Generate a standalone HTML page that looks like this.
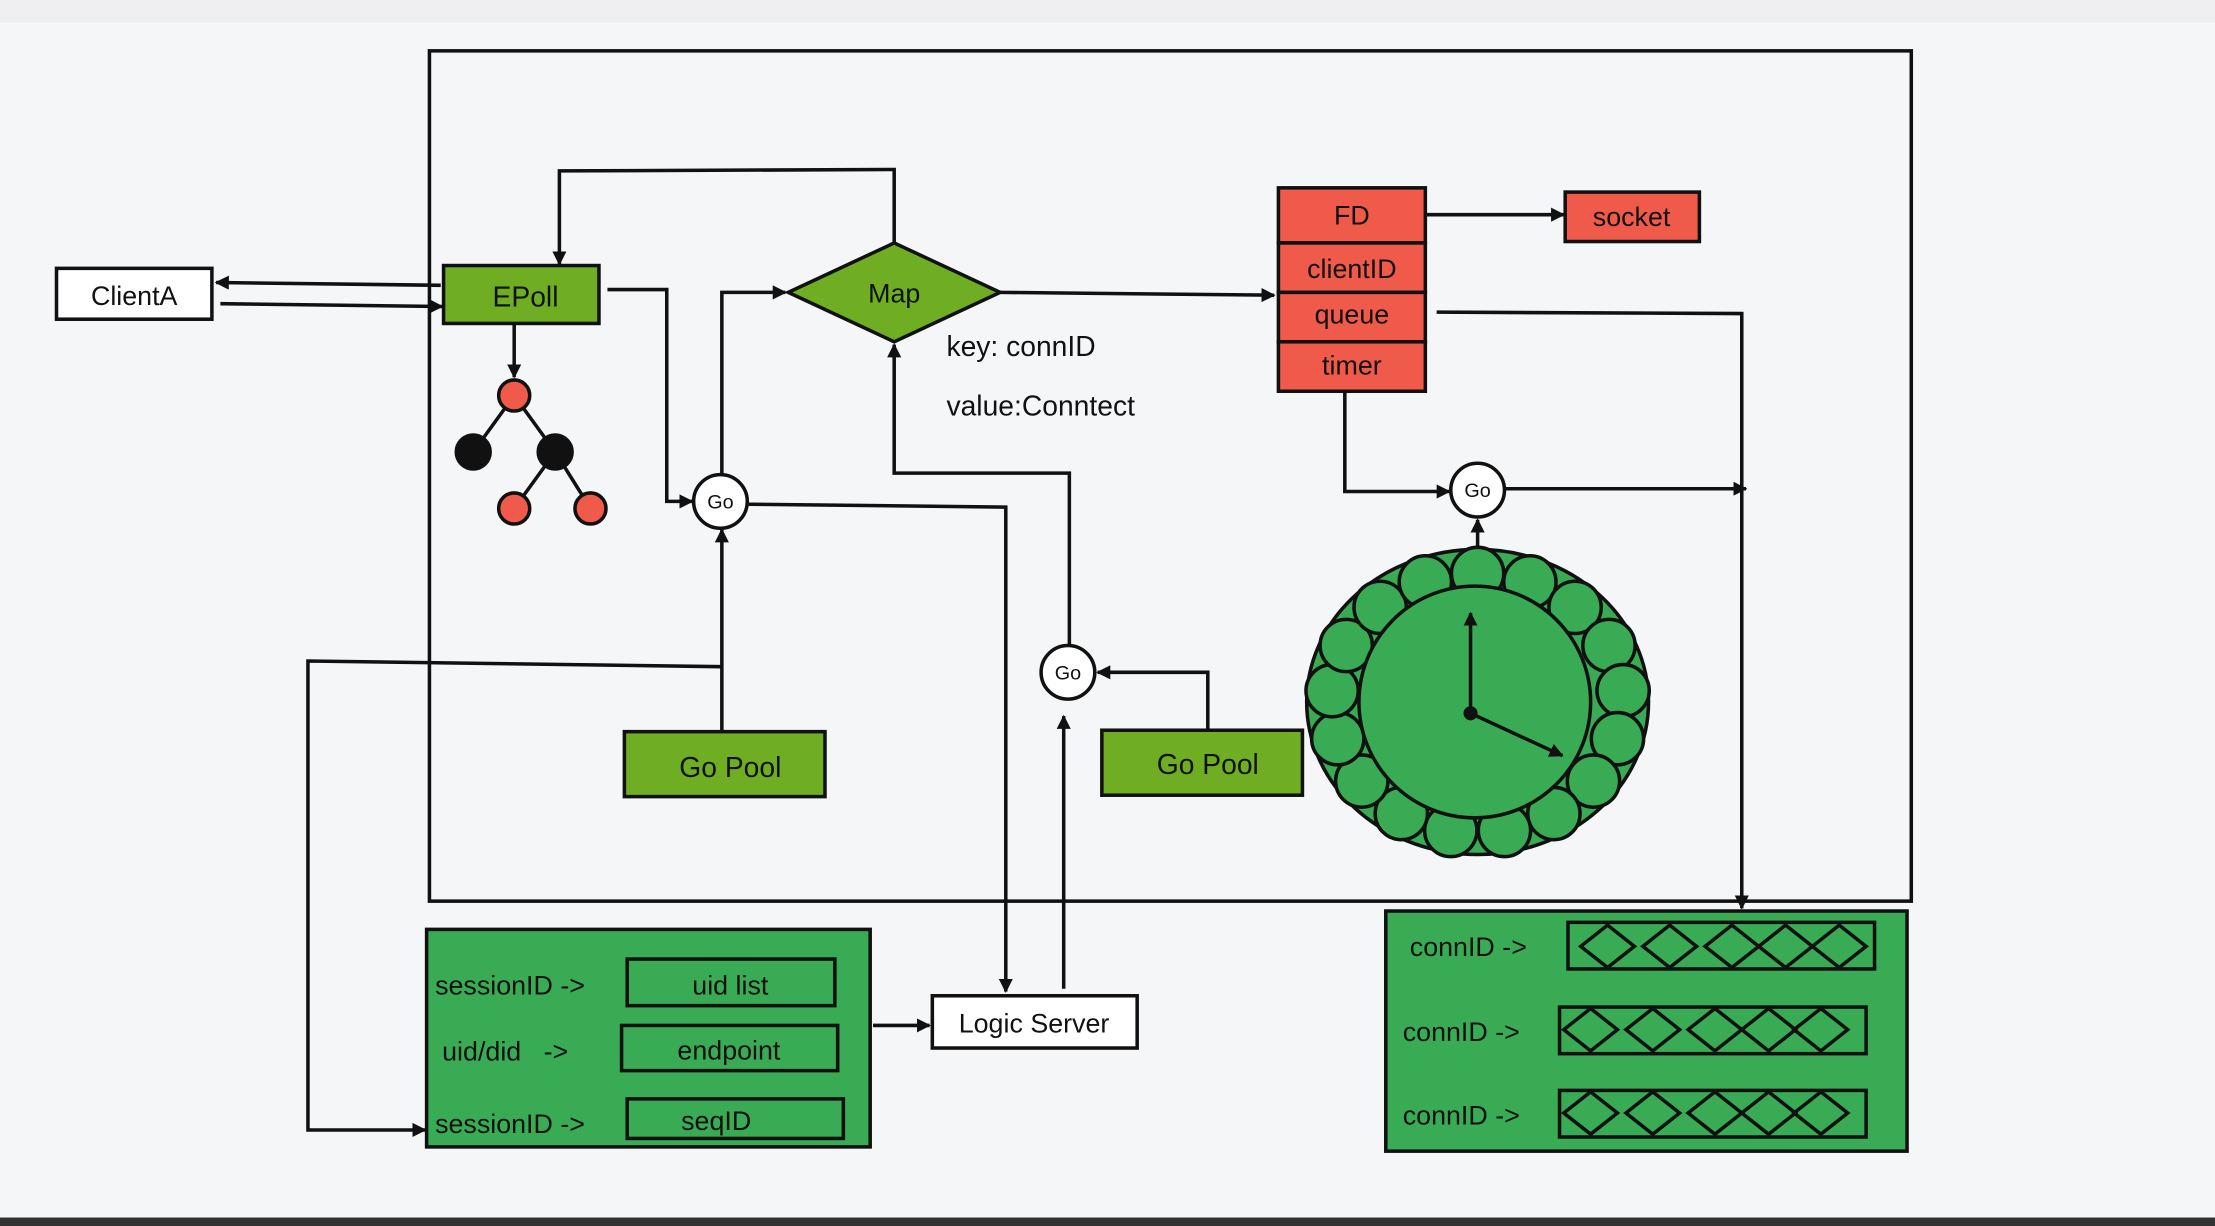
<!DOCTYPE html>
<html><head><meta charset="utf-8"><style>
html,body{margin:0;padding:0;background:#f5f6f8;}
svg{display:block;}
text{font-family:"Liberation Sans",sans-serif;fill:#111;}
</style></head><body>
<svg width="2215" height="1226" viewBox="0 0 1568 868" preserveAspectRatio="none" xmlns="http://www.w3.org/2000/svg">
<defs>
<marker id="a" markerWidth="10" markerHeight="10" refX="9" refY="5" orient="auto" markerUnits="userSpaceOnUse"><path d="M0,0 L10,5 L0,10 z" fill="#111"/></marker>
</defs>
<rect x="0" y="0" width="1568" height="868" fill="#f5f6f8"/>
<rect x="0" y="0" width="1568" height="16" fill="#efeff1"/>
<rect x="0" y="862" width="1568" height="6" fill="#333"/>
<g fill="none" stroke="#111" stroke-width="2.5">
<rect x="304" y="36" width="1049" height="602"/>
</g>
<rect x="40" y="190" width="110" height="36" fill="#fff" stroke="#111" stroke-width="2.5"/>
<text x="95" y="216" font-size="19" text-anchor="middle">ClientA</text>
<rect x="314" y="188" width="110" height="41" fill="#6fae22" stroke="#111" stroke-width="2.5"/>
<text x="372" y="217" font-size="20" text-anchor="middle">EPoll</text>
<g stroke="#111" stroke-width="2.5" fill="none">
<line x1="312" y1="202" x2="153" y2="200" marker-end="url(#a)"/>
<line x1="156" y1="215" x2="313" y2="217" marker-end="url(#a)"/>
<polyline points="633,172 633,120 396,121 396,187" marker-end="url(#a)"/>
<polyline points="430,205 472,205 472,355 490,355" marker-end="url(#a)"/>
<polyline points="511,337 511,207 556,207" marker-end="url(#a)"/>
<polyline points="530,357 712,359 712,702" marker-end="url(#a)"/>
<polyline points="753,700 753,507" marker-end="url(#a)"/>
<polyline points="757,458 757,335 633,335 633,244" marker-end="url(#a)"/>
<polyline points="855,516 855,476 777,476" marker-end="url(#a)"/>
<polyline points="511,518 511,375" marker-end="url(#a)"/>
<polyline points="511,472 218,468 218,800 301,800" marker-end="url(#a)"/>
<line x1="364" y1="229" x2="364" y2="267" marker-end="url(#a)"/>
<line x1="708" y1="207" x2="902" y2="209" marker-end="url(#a)"/>
<line x1="1010" y1="152" x2="1107" y2="152" marker-end="url(#a)"/>
<polyline points="1017,221 1233,222 1233,643" marker-end="url(#a)"/>
<polyline points="952,278 952,348 1026,348" marker-end="url(#a)"/>
<line x1="1066" y1="346" x2="1236" y2="346" marker-end="url(#a)"/>
<line x1="1046" y1="390" x2="1046" y2="368" marker-end="url(#a)"/>
<line x1="618" y1="726" x2="658" y2="726" marker-end="url(#a)"/>
<line x1="364" y1="280" x2="335" y2="320"/>
<line x1="364" y1="280" x2="393" y2="320"/>
<line x1="393" y1="320" x2="364" y2="360"/>
<line x1="393" y1="320" x2="418" y2="360"/>
</g>
<g stroke="#111" stroke-width="2.5">
<circle cx="364" cy="280" r="11" fill="#f05a4b"/>
<circle cx="335" cy="320" r="12" fill="#111"/>
<circle cx="393" cy="320" r="12" fill="#111"/>
<circle cx="364" cy="360" r="11" fill="#f05a4b"/>
<circle cx="418" cy="360" r="11" fill="#f05a4b"/>
</g>
<polygon points="558,207 633,172 708,207 633,242" fill="#6fae22" stroke="#111" stroke-width="2.5"/>
<text x="633" y="214" font-size="19" text-anchor="middle">Map</text>
<text x="670" y="252" font-size="20">key: connID</text>
<text x="670" y="294" font-size="20">value:Conntect</text>
<g stroke="#111" stroke-width="2.5" fill="#fff">
<circle cx="510" cy="355" r="19"/>
<circle cx="756" cy="476" r="19"/>
<circle cx="1046" cy="347" r="19"/>
</g>
<g font-size="14" text-anchor="middle">
<text x="510" y="360">Go</text>
<text x="756" y="481">Go</text>
<text x="1046" y="352">Go</text>
</g>
<rect x="442" y="518" width="142" height="46" fill="#6fae22" stroke="#111" stroke-width="2.5"/>
<text x="517" y="550" font-size="20" text-anchor="middle">Go Pool</text>
<rect x="780" y="517" width="142" height="46" fill="#6fae22" stroke="#111" stroke-width="2.5"/>
<text x="855" y="548" font-size="20" text-anchor="middle">Go Pool</text>
<g stroke="#111" stroke-width="2.5" fill="#f05a4b">
<rect x="905" y="133" width="104" height="39"/>
<rect x="905" y="172" width="104" height="35"/>
<rect x="905" y="207" width="104" height="35"/>
<rect x="905" y="242" width="104" height="35"/>
<rect x="1108" y="136" width="95" height="35"/>
</g>
<g font-size="19" text-anchor="middle">
<text x="957" y="159">FD</text>
<text x="957" y="197">clientID</text>
<text x="957" y="229">queue</text>
<text x="957" y="265">timer</text>
<text x="1155" y="160">socket</text>
</g>
<g stroke="#111" stroke-width="2.5" fill="#3aab55">
<ellipse cx="1046" cy="497" rx="121" ry="108"/>
<circle cx="1046" cy="406" r="18.5"/><circle cx="1083" cy="412" r="18.5"/><circle cx="1115" cy="430" r="18.5"/>
<circle cx="1139" cy="457" r="18.5"/><circle cx="1149" cy="489" r="18.5"/><circle cx="1145" cy="523" r="18.5"/>
<circle cx="1128" cy="553" r="18.5"/><circle cx="1100" cy="576" r="18.5"/><circle cx="1065" cy="588" r="18.5"/>
<circle cx="1027" cy="588" r="18.5"/><circle cx="992" cy="576" r="18.5"/><circle cx="964" cy="553" r="18.5"/>
<circle cx="947" cy="523" r="18.5"/><circle cx="943" cy="489" r="18.5"/><circle cx="953" cy="457" r="18.5"/>
<circle cx="977" cy="430" r="18.5"/><circle cx="1009" cy="412" r="18.5"/>
<ellipse cx="1044" cy="497" rx="82" ry="82"/>
</g>
<g stroke="#111" stroke-width="2.5" fill="none">
<line x1="1041" y1="505" x2="1041" y2="434" marker-end="url(#a)"/>
<line x1="1041" y1="505" x2="1106" y2="535" marker-end="url(#a)"/>
</g>
<circle cx="1041" cy="505" r="5" fill="#111"/>
<rect x="302" y="658" width="314" height="154" fill="#3aab55" stroke="#111" stroke-width="2.5"/>
<g stroke="#111" stroke-width="2.5" fill="#3aab55">
<rect x="444" y="679" width="147" height="33"/>
<rect x="440" y="726" width="153" height="32"/>
<rect x="444" y="778" width="153" height="28"/>
</g>
<g font-size="19">
<text x="308" y="704">sessionID -&gt;</text>
<text x="313" y="751">uid/did&#160;&#160; -&gt;</text>
<text x="308" y="802">sessionID -&gt;</text>
</g>
<g font-size="19" text-anchor="middle">
<text x="517" y="704">uid list</text>
<text x="516" y="750">endpoint</text>
<text x="507" y="800">seqID</text>
</g>
<rect x="660" y="705" width="145" height="37" fill="#fff" stroke="#111" stroke-width="2.5"/>
<text x="732" y="731" font-size="19" text-anchor="middle">Logic Server</text>
<rect x="981" y="645" width="369" height="170" fill="#3aab55" stroke="#111" stroke-width="2.5"/>
<g stroke="#111" stroke-width="2.5" fill="none">
<rect x="1110" y="653" width="217" height="33"/>
<rect x="1104" y="713" width="217" height="33"/>
<rect x="1104" y="772" width="217" height="33"/>
<path d="M1119,670 l19,-15 l19,15 l-19,15 z M1163,670 l19,-15 l19,15 l-19,15 z M1207,670 l19,-15 l19,15 l-19,15 z M1245,670 l19,-15 l19,15 l-19,15 z M1283,670 l19,-15 l19,15 l-19,15 z"/>
<path d="M1107,729 l19,-15 l19,15 l-19,15 z M1151,729 l19,-15 l19,15 l-19,15 z M1195,729 l19,-15 l19,15 l-19,15 z M1233,729 l19,-15 l19,15 l-19,15 z M1270,729 l19,-15 l19,15 l-19,15 z"/>
<path d="M1107,788 l19,-15 l19,15 l-19,15 z M1151,788 l19,-15 l19,15 l-19,15 z M1195,788 l19,-15 l19,15 l-19,15 z M1233,788 l19,-15 l19,15 l-19,15 z M1270,788 l19,-15 l19,15 l-19,15 z"/>
</g>
<g font-size="19">
<text x="998" y="677">connID -&gt;</text>
<text x="993" y="737">connID -&gt;</text>
<text x="993" y="796">connID -&gt;</text>
</g>
</svg>
</body></html>
